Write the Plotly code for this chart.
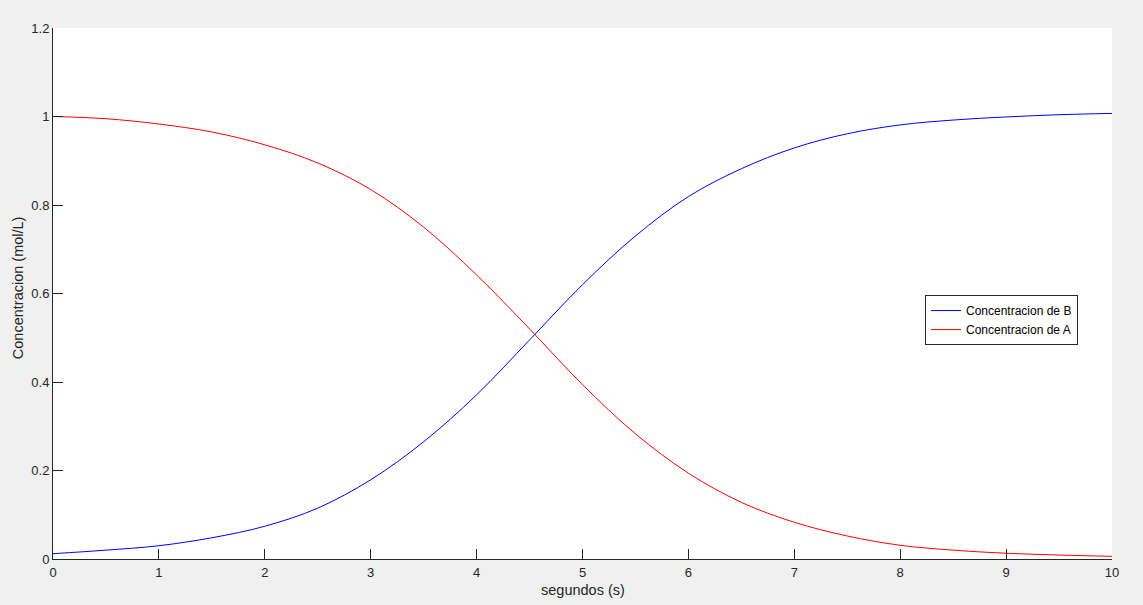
import plotly.graph_objects as go

t = [0, 0.5, 1, 1.5, 2, 2.5, 3, 3.5, 4, 4.5, 5, 5.5, 6, 6.5, 7, 7.5, 8, 8.5, 9, 9.5, 10]
conc_b = [0.012, 0.02, 0.03, 0.048, 0.074, 0.115, 0.179, 0.265, 0.371, 0.495, 0.62,
          0.73, 0.819, 0.882, 0.929, 0.961, 0.981, 0.992, 0.999, 1.004, 1.007]
conc_a = [1.0, 0.995, 0.983, 0.965, 0.936, 0.895, 0.835, 0.75, 0.642, 0.52, 0.394,
          0.283, 0.194, 0.128, 0.083, 0.052, 0.031, 0.02, 0.013, 0.009, 0.006]
x_title = "segundos (s)"
y_title = "Concentracion (mol/L)"

fig = go.Figure()
fig.add_trace(go.Scatter(x=t, y=conc_b, mode="lines", name="Concentracion de B",
                         line=dict(color="#0000FF", width=1, shape="spline", smoothing=1)))
fig.add_trace(go.Scatter(x=t, y=conc_a, mode="lines", name="Concentracion de A",
                         line=dict(color="#FF0000", width=1, shape="spline", smoothing=1)))

axis_common = dict(showline=True, linecolor="#262626", linewidth=1, ticks="inside",
                   ticklen=10, tickcolor="#262626", tickwidth=1, showgrid=False,
                   zeroline=False, mirror=False, automargin=False,
                   tickfont=dict(family="Liberation Sans, Arial", size=13, color="#262626"))

fig.update_xaxes(range=[0, 10], dtick=1, tick0=0, ticklabelstandoff=1, **axis_common)
fig.update_yaxes(range=[0, 1.2], dtick=0.2, tick0=0, **axis_common)

title_font = dict(family="Liberation Sans, Arial", size=14.5, color="#262626")
fig.add_annotation(text=x_title, xref="paper", yref="paper", x=0.5, y=0,
                   xanchor="center", yanchor="top", yshift=-21, showarrow=False,
                   font=title_font)
fig.add_annotation(text=y_title, xref="paper", yref="paper", x=0, y=0.51,
                   xanchor="center", yanchor="middle", xshift=-35, textangle=-90,
                   showarrow=False, font=title_font)

fig.update_layout(
    width=1143, height=605,
    margin=dict(l=53, r=31, t=28, b=46),
    paper_bgcolor="#F0F0F0", plot_bgcolor="#FFFFFF",
    legend=dict(x=0.8234, y=0.450, xanchor="left", yanchor="middle",
                bgcolor="#FFFFFF", bordercolor="#262626", borderwidth=1,
                font=dict(family="Liberation Sans, Arial", size=12, color="#000000"),
                tracegroupgap=0),
    showlegend=True,
)

fig.write_html("out.html", config={"displayModeBar": False},
               post_script="document.body.style.margin='0';document.body.style.background='#F0F0F0';")
